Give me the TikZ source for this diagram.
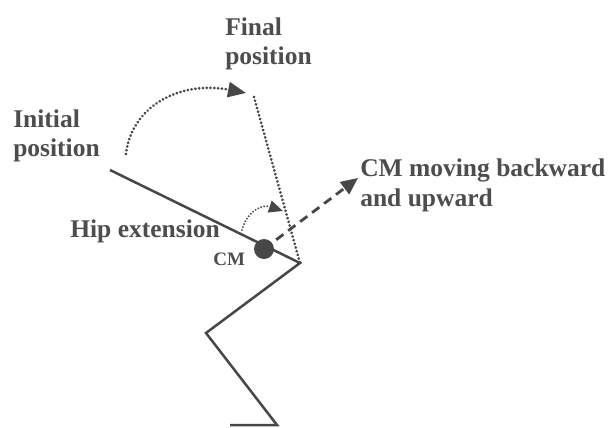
\documentclass[tikz,border=0pt]{standalone}
\usepackage{fontspec}
\setmainfont{Liberation Serif}
\usetikzlibrary{arrows.meta, positioning}

\definecolor{inkgray}{HTML}{474747}
\definecolor{textgray}{HTML}{4D4D4D}

\begin{document}
\begin{tikzpicture}[
    x = 1pt, y = -1pt, % pixel grid, y downward
    > = {Triangle[length=18pt, width=15pt]},
    semithick,
    segment/.style = {draw = inkgray, line width = 2.5pt, line join = miter},
    dots/.style = {draw = inkgray, line width = 3pt, line cap = round,
                   dash pattern = on 0.01pt off 3.8pt},
    finedots/.style = {draw = inkgray, line width = 2.1pt, line cap = round,
                   dash pattern = on 0.01pt off 3.1pt},
    dashes/.style = {draw = inkgray, line width = 2.8pt, dash pattern = on 9pt off 6pt},
    lbl/.style = {anchor = base west, inner sep = 0pt, text = textgray, align = left,
                  font = \fontsize{25.5}{29.5}\selectfont\bfseries}
  ]
  \useasboundingbox (0,0) rectangle (614,428);

  % body segments
  \coordinate (shoulder) at (110,170);
  \coordinate (hip) at (300,263);
  \coordinate (knee) at (206,333);
  \coordinate (ankle) at (277,425);
  \coordinate (toe) at (230,425);
  \coordinate (top) at (254,97);
  \coordinate (swingstart) at (126,154);
  \coordinate (swingend) at (246,93);
  \coordinate (hipstart) at (242,230);
  \coordinate (hipend) at (283,211);
  \coordinate (upward) at (358,178);

  \draw[segment] (shoulder) -- (hip) -- (knee) -- (ankle) -- (toe);
  \draw[dots] (top) -- (hip);

  \node[circle, fill = inkgray, inner sep = 0pt, minimum size = 20pt] (cm) at (264,249) {};

  % motion arrows
  \draw[dots, ->] (swingstart) .. controls (131,108) and (178,80) .. (swingend);
  \draw[finedots, -{Triangle[length=14pt, width=12pt]}] (hipstart)
      .. controls (247,211) and (262,204) .. (hipend);
  \draw[dashes, -{Triangle[length=17pt, width=15pt]}, shorten <= 5pt] (cm) -- (upward);

  % labels (base = baseline of the last line)
  \node[lbl] (initial) at (13,157) {Initial\\position};
  \node[lbl] (final) at (225,65) {Final\\position};
  \node[lbl] (hipext) at (70,237) {Hip extension};
  \node[lbl, font = \fontsize{19}{22}\selectfont\bfseries] (cmlbl) at (213,265) {CM};
  \node[lbl] (moving) at (360,206) {CM moving backward\\and upward};
\end{tikzpicture}
\end{document}
